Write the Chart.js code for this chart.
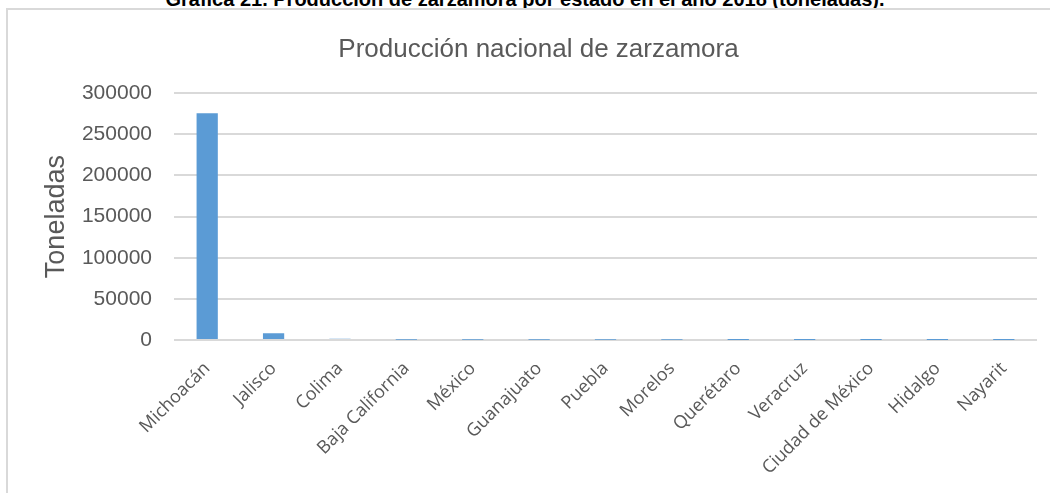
<!DOCTYPE html>
<html lang="es">
<head>
<meta charset="utf-8">
<title>Producción nacional de zarzamora</title>
<script src="https://cdn.jsdelivr.net/npm/chart.js@4"></script>
<style>
  html, body { margin: 0; padding: 0; background: #fff; overflow: hidden; width: 1050px; height: 493px; }
  .caption {
    position: absolute; left: 0; width: 1050px; top: -11px;
    text-align: center; font: bold 20px/20px "Liberation Sans", Arial, sans-serif; color: #000;
  }
  .frame {
    position: absolute; left: 6px; top: 8px; width: 1070px; height: 485px;
    border-left: 2px solid #d9d9d9; border-top: 2px solid #d9d9d9;
  }
  .frame canvas { position: absolute; left: 0; top: 0; }
</style>
</head>
<body>
<div class="caption">Gráfica 21. Producción de zarzamora por estado en el año 2018 (toneladas).</div>
<div class="frame">
  <canvas id="zarzamoraChart" width="1060" height="483"></canvas>
</div>
<script>
// Producción por estado, toneladas
var estados = ['Michoacán', 'Jalisco', 'Colima', 'Baja California', 'México', 'Guanajuato',
    'Puebla', 'Morelos', 'Querétaro', 'Veracruz', 'Ciudad de México', 'Hidalgo', 'Nayarit'];
var toneladas = [275500, 8100, 1500, 450, 380, 300, 240, 200, 150, 120, 90, 70, 40];
var yTicks = [0, 50000, 100000, 150000, 200000, 250000, 300000];

var gris = '#595959';

new Chart(document.getElementById('zarzamoraChart'), {
    type: 'bar',
    data: {
        labels: estados,
        datasets: [{
            label: 'Toneladas',
            data: toneladas,
            backgroundColor: '#5b9bd5',
            borderWidth: 0,
            categoryPercentage: 1.0,
            barPercentage: 0.32
        }]
    },
    options: {
        responsive: false,
        animation: false,
        layout: { padding: { left: 32, right: 31, top: 0, bottom: 0 } },
        plugins: {
            legend: { display: false },
            tooltip: { enabled: false },
            title: {
                display: true,
                text: 'Producción nacional de zarzamora',
                color: gris,
                font: { family: 'Liberation Sans', size: 26, weight: 'normal' },
                padding: { top: 24, bottom: 28 }
            }
        },
        scales: {
            y: {
                min: yTicks[0],
                max: yTicks[yTicks.length - 1],
                afterBuildTicks: function(axis) {
                    axis.ticks = yTicks.map(function(v) { return { value: v }; });
                },
                afterFit: function(axis) { axis.width = 134; },
                border: { display: false },
                grid: { color: '#d9d9d9', lineWidth: 2, drawTicks: false },
                ticks: {
                    color: gris,
                    padding: 22,
                    font: { family: 'Liberation Sans', size: 21 },
                    callback: function(v) { return String(v); }
                },
                title: {
                    display: true,
                    text: 'Toneladas',
                    color: gris,
                    padding: { top: 0, bottom: 0 },
                    font: { family: 'Liberation Sans', size: 27 }
                }
            },
            x: {
                afterFit: function(axis) { axis.height = 153; },
                border: { display: false },
                grid: { display: false, drawTicks: false },
                ticks: {
                    color: gris,
                    maxRotation: 45,
                    minRotation: 45,
                    padding: 18,
                    autoSkip: false,
                    font: { family: 'Open Sans', size: 18 }
                }
            }
        }
    }
});
</script>
</body>
</html>
